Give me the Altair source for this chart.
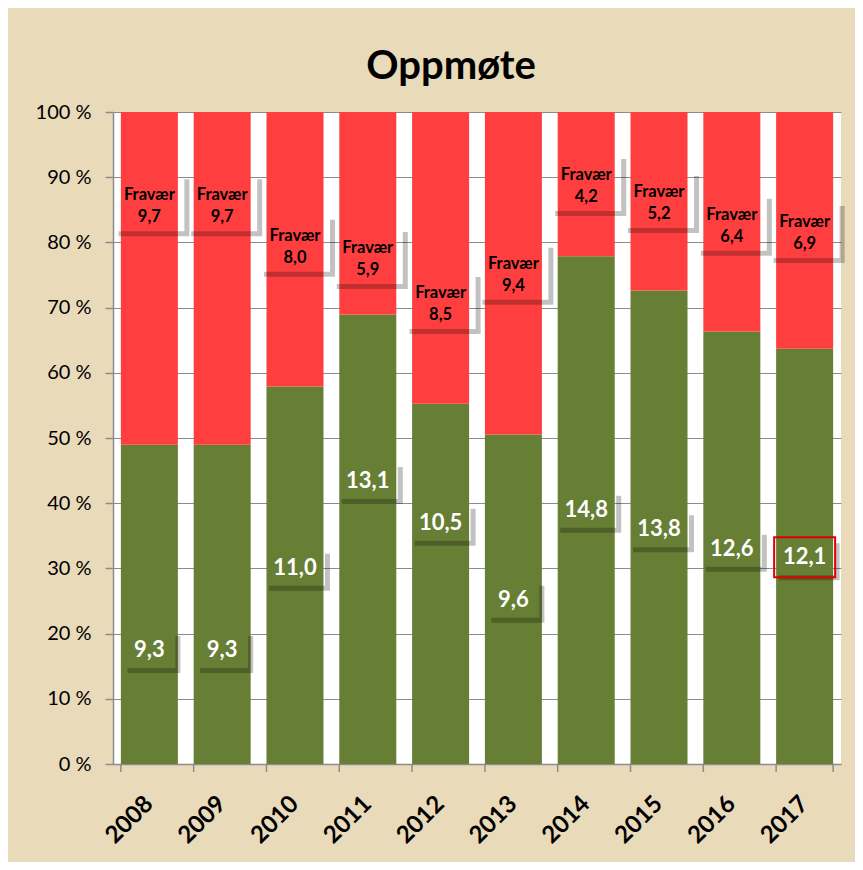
import altair as alt
import pandas as pd

# ---- data ----
years = ["2008", "2009", "2010", "2011", "2012", "2013", "2014", "2015", "2016", "2017"]
attendance = [9.3, 9.3, 11.0, 13.1, 10.5, 9.6, 14.8, 13.8, 12.6, 12.1]
absence = [9.7, 9.7, 8.0, 5.9, 8.5, 9.4, 4.2, 5.2, 6.4, 6.9]
# where the (manually placed) data labels sit, in percent of the bar
attendance_label_at = [17.5, 17.5, 30.1, 43.4, 37.0, 25.2, 39.0, 36.0, 33.0, 31.7]
absence_label_at = [86.0, 86.0, 79.8, 77.9, 71.0, 75.5, 89.1, 86.5, 83.0, 81.9]
highlight_year = "2017"

GREEN = "#677E35"
RED = "#FF3F3F"
GRID = "#8C8C8C"
BG = "#E9DABA"
FONT = "Lato"

W, H = 728, 652


def fmt(v):
    return f"{v:.1f}".replace(".", ",")


def shadow_path(hw, hh, d=4, t=5):
    # L-shaped drop shadow (right + bottom) around a box of half size hw x hh
    pts = [(hw, -hh + d), (hw + t, -hh + d), (hw + t, hh + t),
           (-hw + d, hh + t), (-hw + d, hh), (hw, hh)]
    return "M" + " L".join(f"{x},{y}" for x, y in pts) + " Z"


def rect_path(hw, hh):
    return f"M{-hw},{-hh} L{hw},{-hh} L{hw},{hh} L{-hw},{hh} Z"


rows = []
for i, y in enumerate(years):
    rows.append(dict(year=y, series="Oppmøte", value=attendance[i], ord=0))
    rows.append(dict(year=y, series="Fravær", value=absence[i], ord=1))
bars_df = pd.DataFrame(rows)

g_rows, r_rows, sh_rows, hl_rows = [], [], [], []
for i, y in enumerate(years):
    gt = fmt(attendance[i])
    gw = 26 if len(gt) == 3 else 30
    g_rows.append(dict(year=y, text=gt, pos=attendance_label_at[i] / 100))
    sh_rows.append(dict(year=y, pos=attendance_label_at[i] / 100, shape=shadow_path(gw, 18)))
    r_rows.append(dict(year=y, text="Fravær\n" + fmt(absence[i]), pos=absence_label_at[i] / 100))
    sh_rows.append(dict(year=y, pos=absence_label_at[i] / 100, shape=shadow_path(35, 28)))
    if y == highlight_year:
        hl_rows.append(dict(year=y, pos=attendance_label_at[i] / 100, shape=rect_path(30.5, 20)))

g_df = pd.DataFrame(g_rows)
r_df = pd.DataFrame(r_rows)
sh_df = pd.DataFrame(sh_rows)
hl_df = pd.DataFrame(hl_rows)
tick_df = pd.DataFrame({"year": years})

xscale = alt.Scale(domain=years, paddingInner=0.217, paddingOuter=0.108)
yscale = alt.Scale(domain=[0, 1])

x_enc = alt.X(
    "year:N", scale=xscale, title=None,
    axis=alt.Axis(
        ticks=False, labelAngle=-45, labelAlign="right", labelBaseline="middle",
        labelFont=FONT, labelFontSize=24, labelFontWeight="bold", labelColor="black",
        labelPadding=36, domainColor=GRID, domainWidth=1.5,
    ),
)

bars = alt.Chart(bars_df).mark_bar().encode(
    x=x_enc,
    y=alt.Y(
        "value:Q", stack="normalize", scale=yscale, title=None,
        axis=alt.Axis(
            values=[round(v / 10, 1) for v in range(11)],
            labelExpr="format(datum.value * 100, 'd') + ' %'",
            labelFont=FONT, labelFontSize=20, labelColor="black", labelPadding=14,
            tickSize=8, tickColor=GRID, tickWidth=1.5,
            domainColor=GRID, domainWidth=1.5,
            gridColor=GRID, gridWidth=1.2,
        ),
    ),
    color=alt.Color("series:N", scale=alt.Scale(domain=["Oppmøte", "Fravær"], range=[GREEN, RED]), legend=None),
    order=alt.Order("ord:Q"),
)

shadows = alt.Chart(sh_df).mark_point(
    filled=True, size=4, color="black", opacity=0.24, strokeWidth=0
).encode(
    x=alt.X("year:N", scale=xscale),
    y=alt.Y("pos:Q", scale=yscale),
    shape=alt.Shape("shape:N", scale=None, legend=None),
)

highlight = alt.Chart(hl_df).mark_point(
    filled=False, size=4, color="#E00000", opacity=1, strokeWidth=2
).encode(
    x=alt.X("year:N", scale=xscale),
    y=alt.Y("pos:Q", scale=yscale),
    shape=alt.Shape("shape:N", scale=None, legend=None),
)

g_text = alt.Chart(g_df).mark_text(
    font=FONT, fontSize=22, fontWeight="bold", color="white", baseline="middle"
).encode(
    x=alt.X("year:N", scale=xscale),
    y=alt.Y("pos:Q", scale=yscale),
    text="text:N",
)

r_text = alt.Chart(r_df).mark_text(
    font=FONT, fontSize=16.5, fontWeight="bold", color="black", baseline="middle",
    lineBreak="\n", lineHeight=22, dy=-8,
).encode(
    x=alt.X("year:N", scale=xscale),
    y=alt.Y("pos:Q", scale=yscale),
    text="text:N",
)

ticks = alt.Chart(tick_df).mark_rule(color=GRID, strokeWidth=1.5).encode(
    x=alt.X("year:N", scale=xscale, bandPosition=0),
    y=alt.value(H), y2=alt.value(H + 8),
)
last_tick = alt.Chart(pd.DataFrame({"year": [years[-1]]})).mark_rule(color=GRID, strokeWidth=1.5).encode(
    x=alt.X("year:N", scale=xscale, bandPosition=1),
    y=alt.value(H), y2=alt.value(H + 8),
)

chart = alt.layer(bars, shadows, highlight, g_text, r_text, ticks, last_tick).properties(
    width=W, height=H,
    title=alt.TitleParams(
        "Oppmøte", font=FONT, fontSize=40, fontWeight="bold", color="black",
        anchor="middle", dx=-26, offset=15,
    ),
    autosize=alt.AutoSizeParams(type="none"),
    padding={"left": 105, "top": 104, "right": 14, "bottom": 98},
    background=BG,
).configure_view(fill="white", stroke=None)

chart.save("out.html", embed_options={"renderer": "svg", "actions": False})
